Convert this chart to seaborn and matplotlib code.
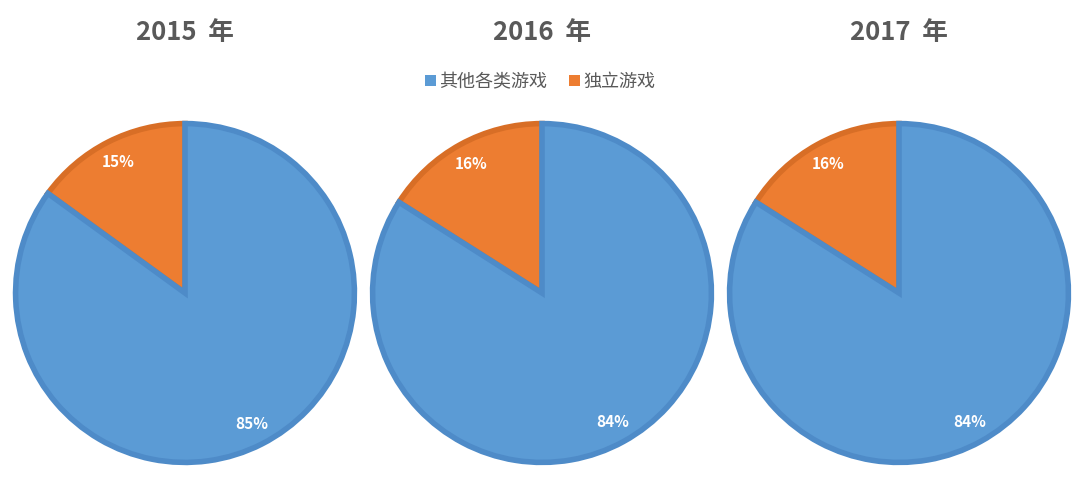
import matplotlib.pyplot as plt
import seaborn as sns
from matplotlib.patches import Patch

# data
years = ["2015 年", "2016 年", "2017 年"]
categories = ["独立游戏", "其他各类游戏"]
indie_share = [15, 16, 16]
other_share = [85, 84, 84]

sns.set_theme(style="white")
plt.rcParams['font.family'] = ['Noto Sans CJK SC', 'DejaVu Sans']

fill_colors = ["#ED7D31", "#5B9BD5"]
edge_colors = ["#D86E26", "#4E8BC8"]

fig = plt.figure(figsize=(10.8, 4.88), dpi=100)

lefts = [13 / 1080, 370 / 1080, 727 / 1080]
for i, year in enumerate(years):
    ax = fig.add_axes([lefts[i], 23 / 488, 344 / 1080, 344 / 488])
    values = [indie_share[i], other_share[i]]
    wedges, texts, autotexts = ax.pie(
        values, colors=fill_colors, startangle=90, counterclock=True,
        autopct=lambda p: f"{p:.0f}%", pctdistance=0.87, radius=0.985,
        wedgeprops=dict(linewidth=4, joinstyle="miter"),
        textprops=dict(color="white", fontsize=11, fontweight="bold"))
    for w, ec in zip(wedges, edge_colors):
        w.set_edgecolor(ec)
    ax.set_xlim(-1, 1)
    ax.set_ylim(-1, 1)
    ax.set_aspect("equal")
    cx = lefts[i] + 172 / 1080
    fig.text(cx, 1 - 33 / 488, year.replace(" ", "  "), ha="center", va="center",
             fontsize=18.5, fontweight="bold", color="#595959")

handles = [Patch(facecolor=fill_colors[1], edgecolor="none", label=categories[1]),
           Patch(facecolor=fill_colors[0], edgecolor="none", label=categories[0])]
fig.legend(handles=handles, loc="center", bbox_to_anchor=(540 / 1080, 1 - 82 / 488),
           ncol=2, frameon=False, fontsize=13, handlelength=0.6, handleheight=0.6,
           handletextpad=0.2, columnspacing=1.2, labelcolor="#595959")

fig.savefig("out.png", dpi=100, facecolor="white")
